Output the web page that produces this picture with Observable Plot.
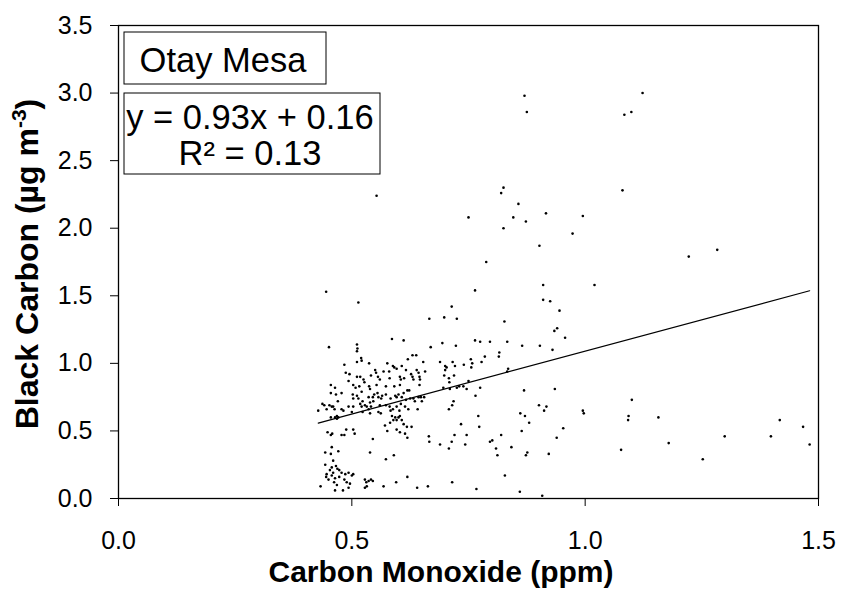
<!DOCTYPE html>
<html><head><meta charset="utf-8">
<script src="https://cdn.jsdelivr.net/npm/d3@7"></script>
<script src="https://cdn.jsdelivr.net/npm/@observablehq/plot@0.6"></script>
<style>
html,body{margin:0;padding:0;background:#fff;}
#chart{position:relative;width:843px;height:597px;}
#chart svg{font-family:"Liberation Sans",Arial,sans-serif;display:block;}
</style></head><body><div id="chart"></div>
<script>
const siteName = "Otay Mesa";
const xTitle = "Carbon Monoxide (ppm)";
const yTitleMain = "Black Carbon (µg m";
const yTitleSup = "-3";
const xTicks = [0, 0.5, 1.0, 1.5];
const yTicks = [0, 0.5, 1.0, 1.5, 2.0, 2.5, 3.0, 3.5];
const fitSlope = 0.93;
const fitIntercept = 0.16;
const fitR2 = 0.13;
// [carbon monoxide (ppm), black carbon (µg m-3)]
const points = [
[0.445,1.53],[0.514,1.45],[0.764,1.54],[0.714,1.42],[0.666,1.33],[0.698,1.34],[0.725,1.33],[0.451,1.12],[0.511,1.14],[0.512,1.11],[0.511,1.09],[0.586,1.18],[0.611,1.17],[0.669,1.12],[0.694,1.15],[0.723,1.13],[0.764,1.17],[0.775,1.16],[0.796,1.16],[0.816,1.08],[0.815,1.05],
[0.520,1.04],[0.511,1.01],[0.521,1.02],[0.537,1.00],[0.484,0.99],[0.576,1.00],[0.588,0.98],[0.591,0.97],[0.620,1.03],[0.630,1.06],[0.638,1.06],[0.653,1.01],[0.689,1.01],[0.700,0.98],[0.703,0.97],[0.716,1.01],[0.721,0.98],[0.740,0.99],[0.755,1.03],[0.758,1.00],[0.756,0.97],[0.778,1.01],[0.785,1.05],
[0.487,0.93],[0.495,0.92],[0.550,0.95],[0.552,0.93],[0.568,0.94],[0.580,0.94],[0.596,0.96],[0.607,0.98],[0.616,0.95],[0.627,0.92],[0.639,0.95],[0.643,0.93],[0.657,0.94],[0.511,0.90],[0.518,0.90],[0.525,0.88],[0.541,0.91],[0.556,0.90],[0.560,0.88],[0.581,0.89],[0.603,0.90],[0.605,0.88],[0.612,0.89],[0.630,0.90],[0.632,0.88],[0.645,0.90],[0.646,0.88],[0.700,0.95],[0.698,0.91],[0.708,0.89],[0.719,0.91],
[0.455,0.84],[0.464,0.82],[0.493,0.87],[0.503,0.84],[0.508,0.82],[0.516,0.83],[0.527,0.86],[0.537,0.83],[0.539,0.81],[0.553,0.84],[0.573,0.83],[0.591,0.83],[0.603,0.84],[0.619,0.80],[0.623,0.80],[0.611,0.78],[0.645,0.84],[0.600,0.77],[0.696,0.82],[0.710,0.81],[0.725,0.82],[0.730,0.83],[0.739,0.83],[0.746,0.81],[0.750,0.87],[0.775,0.82],[0.709,0.86],
[0.455,0.78],[0.466,0.77],[0.478,0.78],[0.502,0.77],[0.511,0.76],[0.521,0.79],[0.503,0.74],[0.514,0.74],[0.523,0.72],[0.536,0.75],[0.545,0.75],[0.548,0.77],[0.555,0.78],[0.557,0.75],[0.565,0.76],[0.573,0.77],[0.539,0.71],[0.546,0.72],[0.563,0.74],[0.583,0.74],[0.593,0.76],[0.596,0.75],[0.607,0.75],[0.616,0.73],[0.625,0.74],[0.632,0.74],[0.643,0.75],[0.648,0.75],[0.655,0.75],[0.635,0.72],[0.650,0.72],[0.765,0.76],[0.718,0.72],[0.715,0.69],[0.470,0.72],[0.460,0.68],
[0.437,0.70],[0.441,0.69],[0.452,0.69],[0.457,0.68],[0.428,0.65],[0.446,0.66],[0.463,0.66],[0.478,0.66],[0.493,0.68],[0.503,0.68],[0.518,0.70],[0.521,0.68],[0.528,0.69],[0.532,0.68],[0.536,0.66],[0.541,0.68],[0.560,0.69],[0.573,0.69],[0.581,0.68],[0.588,0.66],[0.596,0.68],[0.605,0.70],[0.614,0.68],[0.621,0.66],[0.641,0.66],[0.482,0.65],[0.500,0.64],[0.468,0.61],[0.471,0.60],[0.464,0.60],[0.455,0.60],[0.468,0.59],[0.523,0.64],[0.539,0.63],[0.557,0.64],[0.562,0.63],[0.583,0.65],[0.602,0.65],[0.708,0.66],[0.586,0.61],[0.593,0.60],[0.600,0.60],[0.603,0.61],[0.589,0.58],[0.596,0.58],[0.607,0.58],
[0.571,0.54],[0.582,0.56],[0.576,0.50],[0.611,0.55],[0.618,0.53],[0.628,0.53],[0.596,0.51],[0.603,0.49],[0.614,0.48],[0.619,0.45],[0.448,0.49],[0.455,0.47],[0.458,0.48],[0.478,0.47],[0.484,0.47],[0.488,0.51],[0.503,0.51],[0.506,0.48],[0.545,0.44],[0.734,0.55],[0.771,0.61],[0.773,0.53],[0.720,0.47],[0.746,0.47],[0.665,0.46],
[0.666,0.42],[0.689,0.40],[0.714,0.42],[0.708,0.37],[0.743,0.40],[0.796,0.42],[0.801,0.43],[0.809,0.37],[0.812,0.32],[0.539,0.34],[0.443,0.34],[0.457,0.38],[0.455,0.33],[0.471,0.35],[0.590,0.32],[0.573,0.29],[0.460,0.28],
[0.443,0.25],[0.457,0.23],[0.466,0.24],[0.469,0.22],[0.473,0.21],[0.453,0.21],[0.478,0.19],[0.460,0.19],[0.446,0.18],[0.445,0.16],[0.457,0.17],[0.464,0.15],[0.450,0.14],[0.473,0.16],[0.486,0.18],[0.493,0.19],[0.500,0.17],[0.484,0.14],[0.489,0.12],[0.496,0.11],[0.462,0.12],[0.468,0.10],[0.464,0.06],[0.481,0.06],[0.493,0.08],[0.433,0.09],[0.528,0.14],[0.536,0.13],[0.541,0.14],[0.531,0.12],[0.528,0.08],[0.532,0.09],[0.545,0.13],[0.568,0.09],[0.595,0.12],[0.619,0.16],[0.640,0.08],[0.663,0.09],[0.715,0.12],[0.767,0.07],[0.503,0.18],
[0.910,1.58],[1.020,1.58],[0.910,1.47],[0.925,1.46],[0.945,1.39],[0.827,1.31],[0.934,1.24],[0.940,1.26],[0.957,1.19],[0.833,1.16],[0.865,1.13],[0.903,1.13],[0.930,1.10],[0.835,0.96],[0.833,0.94],[0.869,0.80],[0.935,0.81],[1.100,0.73],[0.901,0.69],[0.917,0.68],[0.912,0.65],[0.861,0.63],[0.871,0.61],[0.995,0.65],[0.997,0.63],[1.093,0.61],[1.092,0.58],[1.157,0.60],[0.880,0.56],[0.953,0.52],[0.864,0.50],[0.820,0.47],[0.939,0.45],[0.842,0.38],[0.876,0.34],[0.873,0.32],[0.922,0.33],[1.077,0.36],[0.828,0.17],[0.860,0.05],[0.908,0.02],
[1.123,3.00],[1.084,2.84],[1.099,2.86],[1.080,2.28],[1.222,1.79],[1.283,1.84],[1.179,0.41],[1.252,0.29],[1.299,0.46],[1.398,0.46],[1.417,0.58],[1.467,0.53],[1.481,0.40],
[0.553,2.24],[0.870,2.98],[0.875,2.86],[0.825,2.30],[0.820,2.26],[0.857,2.18],[0.750,2.08],[0.846,2.08],[0.873,2.05],[0.916,2.11],[0.995,2.09],[0.825,2.00],[0.973,1.96],[0.902,1.87],[0.788,1.75]
];

const fitLine = d3.extent(points, d => d[0]).map(x => ({x, y: fitSlope * x + fitIntercept}));
const fmt = d3.format(".1f");

const chart = Plot.plot({
  width: 843, height: 597,
  marginLeft: 118, marginRight: 25, marginTop: 25, marginBottom: 99,
  style: {fontFamily: '"Liberation Sans", Arial, sans-serif', fontSize: "25px", color: "#000", background: "#fff", overflow: "visible"},
  x: {domain: [0, 1.5], ticks: xTicks, tickFormat: fmt, tickSize: 8, tickPadding: 25, label: null},
  y: {domain: [0, 3.5], ticks: yTicks, tickFormat: fmt, tickSize: 8, tickPadding: 18, label: null},
  marks: [
    Plot.frame({stroke: "#000", strokeWidth: 1.3}),
    Plot.dot(points, {x: d => d[0], y: d => d[1], r: 1.3, fill: "#000", stroke: null}),
    Plot.line(fitLine, {x: "x", y: "y", stroke: "#000", strokeWidth: 1.2})
  ]
});
document.getElementById("chart").appendChild(chart);

const svg = d3.select(chart);
const font = '"Liberation Sans", Arial, sans-serif';
// x title
svg.append("text").attr("x", 441).attr("y", 582).attr("text-anchor", "middle")
  .attr("font-family", font).attr("font-weight", "bold").attr("font-size", 30).attr("fill", "#000").text(xTitle);
// y title
const yt = svg.append("text").attr("transform", "translate(38,264) rotate(-90)").attr("text-anchor", "middle")
  .attr("font-family", font).attr("font-weight", "bold").attr("font-size", 32).attr("fill", "#000");
yt.append("tspan").text(yTitleMain);
yt.append("tspan").attr("font-size", 21).attr("dy", -12).text(yTitleSup);
yt.append("tspan").attr("dy", 12).text(")");
// site label box
const g = svg.append("g").attr("font-family", font).attr("fill", "#000");
g.append("rect").attr("x", 124).attr("y", 32).attr("width", 202).attr("height", 52)
  .attr("fill", "#fff").attr("stroke", "#000").attr("stroke-width", 1);
g.append("text").attr("x", 223).attr("y", 72).attr("text-anchor", "middle").attr("font-size", 34.5).text(siteName);
// equation box
g.append("rect").attr("x", 124).attr("y", 93).attr("width", 256).attr("height", 81)
  .attr("fill", "#fff").attr("stroke", "#000").attr("stroke-width", 1);
g.append("text").attr("x", 250).attr("y", 129).attr("text-anchor", "middle").attr("font-size", 34.5)
  .text(`y = ${fitSlope.toFixed(2)}x + ${fitIntercept.toFixed(2)}`);
g.append("text").attr("x", 250).attr("y", 165).attr("text-anchor", "middle").attr("font-size", 34.5)
  .text(`R² = ${fitR2.toFixed(2)}`);
</script></body></html>
